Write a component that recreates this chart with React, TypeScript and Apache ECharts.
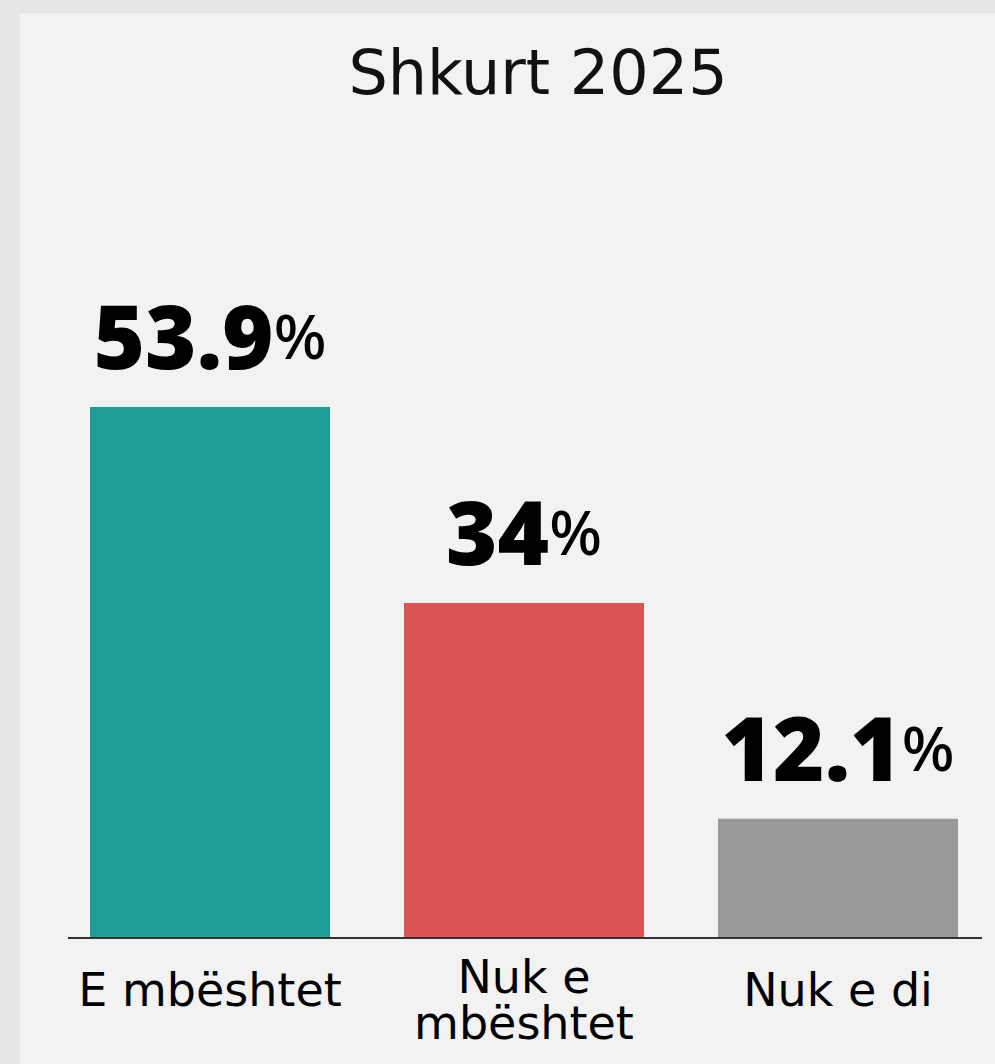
import React, { useEffect, useRef } from "react";
import * as echarts from "echarts";

const title = "Shkurt 2025";
const categories = ["E mbështet", "Nuk e\nmbështet", "Nuk e di"];
const values = [53.9, 34, 12.1];
const valueLabels = ["53.9", "34", "12.1"];
const colors = ["#1f9e96", "#dc5356", "#999999"];

const NUM_FONT = "'Noto Sans', sans-serif";
const TXT_FONT = "'DejaVu Sans', sans-serif";

export default function App() {
  const ref = useRef<HTMLDivElement>(null);
  useEffect(() => {
    if (!ref.current) return;
    const chart = echarts.init(ref.current, null, { renderer: "svg" });
    chart.setOption({
      animation: false,
      backgroundColor: "#e6e6e6",
      graphic: [
        {
          type: "rect",
          z: -10,
          shape: { x: 20, y: 13, width: 975, height: 1051 },
          style: { fill: "#f2f2f2" },
          silent: true,
        },
        {
          type: "line",
          z: 5,
          shape: { x1: 68, y1: 938, x2: 982, y2: 938 },
          style: { stroke: "#333333", lineWidth: 2 },
          silent: true,
        },
      ],
      title: {
        text: title,
        left: 533,
        top: 36,
        textAlign: "center",
        textStyle: { fontFamily: TXT_FONT, fontSize: 62, fontWeight: 400, color: "#111" },
      },
      grid: { left: 53, right: 0, top: 347, bottom: 126, containLabel: false },
      xAxis: {
        type: "category",
        data: categories.map((c) => ({
          value: c,
          textStyle: { padding: c.includes("\n") ? [0, 0, 0, 0] : [13, 0, 0, 0] },
        })),
        axisLine: { show: false },
        axisTick: { show: false },
        axisLabel: {
          interval: 0,
          margin: 16,
          fontFamily: TXT_FONT,
          fontSize: 46,
          fontWeight: 400,
          color: "#000",
          lineHeight: 46,
        },
      },
      yAxis: {
        type: "value",
        min: 0,
        max: 60,
        show: false,
        splitLine: { show: false },
      },
      series: [
        {
          type: "bar",
          barWidth: 240,
          data: values.map((v, i) => ({ value: v, itemStyle: { color: colors[i] } })),
          label: {
            show: true,
            position: "top",
            distance: 28,
            formatter: (p: any) => `{n|${valueLabels[p.dataIndex]}}{p|%}`,
            rich: {
              n: { fontFamily: NUM_FONT, fontSize: 88, fontWeight: 900, color: "#000" },
              p: { fontFamily: NUM_FONT, fontSize: 62, fontWeight: 500, color: "#000" },
            },
          },
        },
      ],
    });
    return () => chart.dispose();
  }, []);
  return (
    <div
      ref={ref}
      style={{ position: "fixed", left: 0, top: 0, width: 995, height: 1064 }}
    />
  );
}
